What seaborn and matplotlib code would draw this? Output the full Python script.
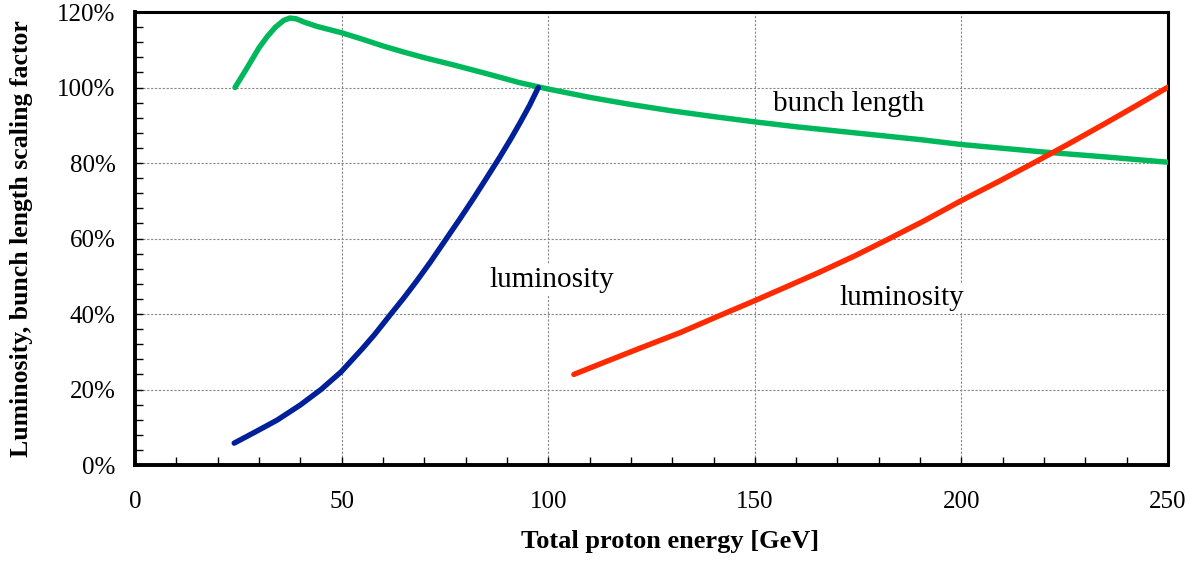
import numpy as np
import pandas as pd
import matplotlib
matplotlib.use("Agg")
import matplotlib.pyplot as plt
from matplotlib.ticker import MultipleLocator, PercentFormatter
import seaborn as sns

# bunch length scaling factor (%) vs total proton energy (GeV)
bunch_energy = [24.2, 27, 30, 32, 34, 36, 37.5, 39, 41, 44, 50, 55, 60, 65, 70, 77,
                85, 93, 100, 110, 120, 130, 140, 150, 160, 175, 190, 200, 210, 220, 235, 250]
bunch_scale = [100, 105, 110.5, 113.5, 116, 117.8, 118.4, 118.2, 117.3, 116.2, 114.5, 112.8,
               111.0, 109.4, 107.9, 106.0, 103.7, 101.3, 99.6, 97.4, 95.5, 93.8, 92.3, 90.9,
               89.6, 87.9, 86.2, 84.9, 83.9, 82.9, 81.6, 80.2]

# luminosity, low energy branch
lumi_low_energy = [24, 29, 34.4, 40, 45, 49.9, 55, 58, 61.7, 65, 68.2, 71.5, 75, 78.5,
                   81.9, 85, 88.3, 91, 93.2, 95.5, 97.6]
lumi_low_scale = [5.8, 8.7, 11.9, 15.9, 20.0, 24.7, 30.8, 34.6, 39.7, 44.2, 48.8, 53.8,
                  59.4, 65.0, 70.6, 75.9, 81.6, 86.5, 90.7, 95.3, 100.0]

# luminosity, high energy branch
lumi_high_energy = [106.2, 114, 122.1, 132, 141.5, 149.9, 157, 165.3, 174, 182.6, 191,
                    199.9, 209, 218.1, 226, 234, 242, 250]
lumi_high_scale = [24.0, 27.4, 30.9, 35.1, 39.6, 43.5, 46.9, 50.9, 55.3, 60.0, 64.7,
                   70.0, 75.1, 80.4, 85.1, 90.0, 95.0, 100.1]

labels = ["bunch length", "luminosity", "luminosity"]
label_x = [172.6, 100.8, 185.5]
label_y = [95.5, 49.0, 44.3]

sns.set_style("white")
plt.rcParams["font.family"] = ["Liberation Serif", "DejaVu Serif"]
plt.rcParams["text.color"] = "black"
plt.rcParams["axes.labelcolor"] = "black"
plt.rcParams["xtick.color"] = "black"
plt.rcParams["ytick.color"] = "black"

fig = plt.figure(figsize=(11.98, 5.61), dpi=100)
ax = fig.add_axes([0.1127, 0.1711, 0.8623, 0.8075])

series = [
    (bunch_energy, bunch_scale, "#00B85C"),
    (lumi_low_energy, lumi_low_scale, "#00209A"),
    (lumi_high_energy, lumi_high_scale, "#FF2A00"),
]
for xs, ys, col in series:
    df = pd.DataFrame({"energy": xs, "scale": ys})
    sns.lineplot(data=df, x="energy", y="scale", ax=ax, color=col, lw=3.9,
                 sort=False, solid_capstyle="round", solid_joinstyle="round", zorder=3)

for txt, tx, ty in zip(labels, label_x, label_y):
    ax.text(tx, ty, txt, ha="center", va="center", fontsize=21, zorder=2,
            color="black", bbox=dict(facecolor="white", edgecolor="none", pad=1.5))

ax.set_xlim(0, 250)
ax.set_ylim(0, 120)
ax.xaxis.set_major_locator(MultipleLocator(50))
ax.xaxis.set_minor_locator(MultipleLocator(10))
ax.yaxis.set_major_locator(MultipleLocator(20))
ax.yaxis.set_minor_locator(MultipleLocator(4))
ax.yaxis.set_major_formatter(PercentFormatter(decimals=0))

ax.grid(True, which="major", color="#888888", lw=0.8, ls=(0, (2, 1.5)), zorder=0)
ax.set_axisbelow(True)
ax.tick_params(which="both", direction="in", color="black", width=1, length=6,
               labelsize=18, labelcolor="black")
ax.tick_params(axis="x", which="both", pad=19, top=False, bottom=True)
ax.tick_params(axis="y", which="both", pad=14, left=True, right=False)

for side in ["left", "bottom"]:
    ax.spines[side].set_linewidth(2.8)
for side in ["top", "right"]:
    ax.spines[side].set_linewidth(2.2)
for sp in ax.spines.values():
    sp.set_color("black")
    sp.set_visible(True)

ax.set_xlabel("Total proton energy [GeV]", fontsize=19, fontweight="bold")
ax.set_ylabel("Luminosity, bunch length scaling factor", fontsize=18.5,
              fontweight="bold")
ax.xaxis.set_label_coords(0.518, -0.143)
ax.yaxis.set_label_coords(-0.099, 0.5)

fig.savefig("out.png", dpi=100)
